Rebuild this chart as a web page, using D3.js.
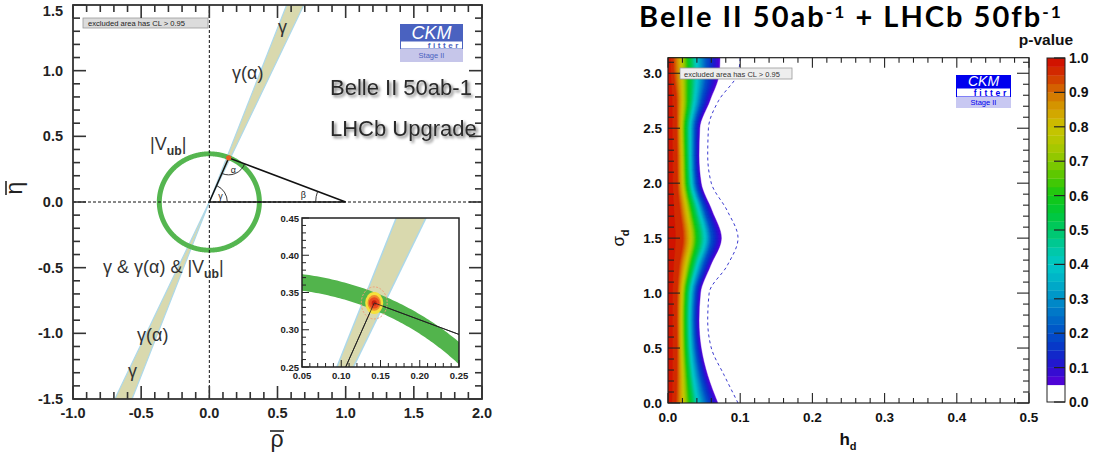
<!DOCTYPE html>
<html><head><meta charset="utf-8">
<script src="https://cdn.jsdelivr.net/npm/d3@7/dist/d3.min.js"></script>
<style>html,body{margin:0;padding:0;background:#fff;} svg{display:block;}</style>
</head><body>
<svg id="chart" width="1097" height="461"></svg>
<script>
// ================= DATA =================
// ---- Left panel: unitarity triangle fit ----
const rhoTicks = [-1.0,-0.5,0.0,0.5,1.0,1.5,2.0];
const etaTicks = [-1.5,-1.0,-0.5,0.0,0.5,1.0,1.5];
const gammaBandDeg = [65.2, 69.3];          // angular edges of the γ / γ(α) band
const vubRing = [0.356, 0.378];             // |Vub| ring radii
const apex = [0.142, 0.336];                // fitted apex (ρ̄, η̄)
const triangleRho = [0, 0.142, 1];
const triangleEta = [0, 0.336, 0];
const insetRhoTicks = [0.05,0.10,0.15,0.20,0.25];
const insetEtaTicks = [0.25,0.30,0.35,0.40,0.45];
const clRx = [0.0165,0.0115,0.0085,0.0068,0.0032];
const clRy = [0.0215,0.0148,0.0105,0.0075,0.0036];
const clFill = ['none','#f6e13c','#f08a2c','#ea4a20','#c8200e'];

// ---- Right panel: h_d / σ_d p-value scan ----
const hdTicks = [0.0,0.1,0.2,0.3,0.4,0.5];
const sigmaTicks = [0.0,0.5,1.0,1.5,2.0,2.5,3.0];
const pTicks = [0.0,0.1,0.2,0.3,0.4,0.5,0.6,0.7,0.8,0.9,1.0];
const sigmaGrid = [0,0.25,0.5,0.75,1.0,1.25,1.5,1.75,2.0,2.25,2.5,2.75,3.0,3.1416];
const edgeH = [0.069,0.055,0.046,0.043,0.045,0.059,0.074,0.061,0.046,0.043,0.044,0.058,0.071,0.072]; // p = 0.05 contour
const dashH = [0.097,0.078,0.060,0.055,0.057,0.082,0.097,0.082,0.060,0.055,0.056,0.070,0.097,0.100]; // dashed contour
const levelP = [0.05,0.2,0.4,0.6,0.8,0.95,1.0];
// contour position relative to the p=0.05 edge, per sigmaGrid point
const u05 = [1,1,1,1,1,1,1,1,1,1,1,1,1,1];
const u20 = [.79,.81,.83,.84,.84,.83,.81,.83,.84,.85,.84,.80,.75,.74];
const u40 = [.59,.63,.67,.69,.69,.68,.69,.70,.70,.71,.69,.63,.56,.54];
const u60 = [.43,.48,.52,.54,.54,.53,.53,.54,.55,.56,.53,.47,.39,.37];
const u80 = [.30,.36,.40,.42,.42,.41,.42,.42,.43,.44,.41,.34,.26,.24];
const u95 = [.16,.22,.27,.28,.28,.26,.28,.27,.28,.29,.27,.20,.11,.10];
const u100 = [0,0,0,0,0,0,0,0,0,0,0,0,0,0];
const paletteP = [0.05,0.1,0.15,0.2,0.25,0.3,0.35,0.4,0.45,0.5,0.55,0.6,0.65,0.7,0.75,0.8,0.85,0.9,0.95,1.0];
const paletteC = ['#5a00d8','#2a10d0','#0a30c8','#0050c8','#0070c8','#0090c8','#00b0c8','#00c8c8','#00c8a0','#00c864','#00c838','#14c814','#50c800','#88c800','#b0c800','#cac200','#d4a000','#d47000','#d23400','#d00800'];

// ================= DRAW =================
const svg = d3.select('#chart');
const defs = svg.append('defs');
const FONT = "'Liberation Sans', Arial, Helvetica, sans-serif";

function drawTicks(g, xs, ys, xMinor, xMajor, yMinor, yMajor, xLen, yLen, sides, sw, col){
  const [x0,x1] = xs.range(); const [y0,y1] = ys.range();
  const isMaj = (v, arr)=> arr.some(m=>Math.abs(m-v)<1e-6);
  xMinor.forEach(v=>{
    const L = isMaj(v,xMajor)?xLen[0]:xLen[1]; const px = xs(v);
    if(sides.includes('b')) g.append('line').attr('x1',px).attr('x2',px).attr('y1',y0).attr('y2',y0-L).attr('stroke',col).attr('stroke-width',sw);
    if(sides.includes('t')) g.append('line').attr('x1',px).attr('x2',px).attr('y1',y1).attr('y2',y1+L).attr('stroke',col).attr('stroke-width',sw);
  });
  yMinor.forEach(v=>{
    const L = isMaj(v,yMajor)?yLen[0]:yLen[1]; const py = ys(v);
    if(sides.includes('l')) g.append('line').attr('x1',x0).attr('x2',x0+L).attr('y1',py).attr('y2',py).attr('stroke',col).attr('stroke-width',sw);
    if(sides.includes('r')) g.append('line').attr('x1',x1).attr('x2',x1-L).attr('y1',py).attr('y2',py).attr('stroke',col).attr('stroke-width',sw);
  });
}
const steps = (a,b,s)=> d3.range(Math.round((b-a)/s)+1).map(i=>+(a+i*s).toFixed(6));

// ---------- LEFT PANEL ----------
const xL = d3.scaleLinear().domain([-1,2]).range([73,482]);
const yL = d3.scaleLinear().domain([-1.5,1.5]).range([399,5]);
defs.append('clipPath').attr('id','clipL').append('rect')
  .attr('x',xL(-1)).attr('y',yL(1.5)).attr('width',xL(2)-xL(-1)).attr('height',yL(-1.5)-yL(1.5));

const gL = svg.append('g');
const pL = gL.append('g').attr('clip-path','url(#clipL)');

function wedgePath(xs, ys, a1, a2, R){
  const r = d=>d*Math.PI/180;
  const line = d3.line().x(d=>xs(d[0])).y(d=>ys(d[1]));
  const w1 = [[0,0],[R*Math.cos(r(a1)),R*Math.sin(r(a1))],[R*Math.cos(r(a2)),R*Math.sin(r(a2))]];
  const w2 = [[0,0],[-R*Math.cos(r(a1)),-R*Math.sin(r(a1))],[-R*Math.cos(r(a2)),-R*Math.sin(r(a2))]];
  return line(w1)+'Z'+line(w2)+'Z';
}
function edgeLine(xs, ys, a, R){
  const t = a*Math.PI/180;
  return d3.line().x(d=>xs(d[0])).y(d=>ys(d[1]))([[-R*Math.cos(t),-R*Math.sin(t)],[R*Math.cos(t),R*Math.sin(t)]]);
}
function ringPath(xs, ys, r0, r1){
  const n = 720;
  const line = d3.line().x(d=>xs(d[0])).y(d=>ys(d[1]));
  const outer = d3.range(n+1).map(i=>{const t=2*Math.PI*i/n; return [r1*Math.cos(t), r1*Math.sin(t)];});
  const inner = d3.range(n+1).map(i=>{const t=-2*Math.PI*i/n; return [r0*Math.cos(t), r0*Math.sin(t)];});
  return line(outer)+'Z'+line(inner)+'Z';
}

// band
pL.append('path').attr('d',wedgePath(xL,yL,gammaBandDeg[0],gammaBandDeg[1],4)).attr('fill','#d9d9ae');
gammaBandDeg.forEach(a=> pL.append('path').attr('d',edgeLine(xL,yL,a,4)).attr('stroke','#acd8ea').attr('stroke-width',1.2).attr('fill','none'));
// ring
pL.append('path').attr('d',ringPath(xL,yL,vubRing[0],vubRing[1])).attr('fill','#55b650').attr('fill-rule','evenodd')
  .attr('stroke','#55b650').attr('stroke-width',2);
// dashed axes
pL.append('line').attr('x1',xL(0)).attr('x2',xL(0)).attr('y1',yL(1.5)).attr('y2',yL(-1.5)).attr('stroke','#111').attr('stroke-width',1).attr('stroke-dasharray','3,2');
pL.append('line').attr('x1',xL(-1)).attr('x2',xL(2)).attr('y1',yL(0)).attr('y2',yL(0)).attr('stroke','#111').attr('stroke-width',1).attr('stroke-dasharray','3,2');
// triangle
const triPts = triangleRho.map((r,i)=>[r,triangleEta[i]]);
pL.append('path').attr('d',d3.line().x(d=>xL(d[0])).y(d=>yL(d[1]))(triPts)+'Z').attr('fill','none').attr('stroke','#111').attr('stroke-width',1.5);
// apex blob
pL.append('ellipse').attr('cx',xL(apex[0])).attr('cy',yL(apex[1])).attr('rx',2.6).attr('ry',2.6).attr('fill','#ea5a22');
// angle arcs
function arcPath(v, a, b, r){
  const a1 = Math.atan2(a[1]-v[1], a[0]-v[0]);
  const a2 = Math.atan2(b[1]-v[1], b[0]-v[0]);
  let d = a2-a1; while(d<=-Math.PI) d+=2*Math.PI; while(d>Math.PI) d-=2*Math.PI;
  const sweep = d>0?1:0;
  return `M${v[0]+r*Math.cos(a1)},${v[1]+r*Math.sin(a1)} A${r},${r} 0 0 ${sweep} ${v[0]+r*Math.cos(a2)},${v[1]+r*Math.sin(a2)}`;
}
const P = triPts.map(d=>[xL(d[0]),yL(d[1])]);
[[P[0],P[2],P[1],18],[P[1],P[0],P[2],17],[P[2],P[1],P[0],30]].forEach(([v,a,b,r])=>{
  pL.append('path').attr('d',arcPath(v,a,b,r)).attr('fill','none').attr('stroke','#222').attr('stroke-width',0.9);
});
const angLab = (t,x,y)=> pL.append('text').attr('x',x).attr('y',y).attr('font-family',FONT).attr('font-size',9).attr('fill','#222').text(t);
angLab('α',P[1][0]+2,P[1][1]+15);
angLab('γ',P[0][0]+9,P[0][1]-3);
angLab('β',P[2][0]-45,P[2][1]-4);

// region labels
function lbl(x,y,parts,size){
  const t = gL.append('text').attr('x',x).attr('y',y).attr('font-family',FONT).attr('font-size',size||18).attr('fill','#333');
  parts.forEach(p=>{
    const s = t.append('tspan').text(p.t);
    if(p.sub){ s.attr('font-size',(size||18)*0.68).attr('dy',5).attr('font-weight','bold'); }
    if(p.back){ s.attr('dy',-5); }
  });
  return t;
}
lbl(278,33,[{t:'γ'}]);
lbl(232,79,[{t:'γ(α)'}]);
lbl(150,150,[{t:'|V'},{t:'ub',sub:true},{t:'|',back:true}]);
lbl(103,273,[{t:'γ & γ(α) & |V'},{t:'ub',sub:true},{t:'|',back:true}]);
lbl(137,341,[{t:'γ(α)'}]);
lbl(128,377,[{t:'γ'}]);

// Belle II / LHCb text with blurred shadow
const fl = defs.append('filter').attr('id','shadow').attr('x','-10%').attr('y','-30%').attr('width','130%').attr('height','170%');
fl.append('feGaussianBlur').attr('in','SourceAlpha').attr('stdDeviation',1.6).attr('result','b');
fl.append('feOffset').attr('in','b').attr('dx',1.5).attr('dy',1.5).attr('result','o');
fl.append('feComponentTransfer').attr('in','o').attr('result','o2').append('feFuncA').attr('type','linear').attr('slope',0.55);
const mg = fl.append('feMerge'); mg.append('feMergeNode').attr('in','o2'); mg.append('feMergeNode').attr('in','SourceGraphic');
gL.append('text').attr('x',330).attr('y',95).attr('font-family',FONT).attr('font-size',22).attr('fill','#2a2a2a').attr('filter','url(#shadow)').text('Belle II 50ab-1');
gL.append('text').attr('x',330).attr('y',136).attr('font-family',FONT).attr('font-size',22).attr('fill','#2a2a2a').attr('filter','url(#shadow)').text('LHCb Upgrade');

// excluded-area box
gL.append('rect').attr('x',83).attr('y',18).attr('width',125).attr('height',10).attr('fill','#dcdcdc').attr('stroke','#9a9a9a').attr('stroke-width',0.8);
gL.append('text').attr('x',88).attr('y',26).attr('font-family',FONT).attr('font-size',7.6).attr('fill','#222').text('excluded area has CL > 0.95');

// CKMfitter logo
function ckmLogo(g,x,y,w,h1,h2,h3,blue,lav,fs){
  g.append('rect').attr('x',x).attr('y',y).attr('width',w).attr('height',h1).attr('fill',blue);
  g.append('text').attr('x',x+w/2).attr('y',y+h1-2.5).attr('text-anchor','middle').attr('font-family',FONT).attr('font-style','italic').attr('font-size',fs[0]).attr('fill','#fff').text('CKM');
  g.append('rect').attr('x',x+0.5).attr('y',y+h1).attr('width',w-1).attr('height',h2).attr('fill','#fff').attr('stroke',blue).attr('stroke-width',1);
  g.append('text').attr('x',x+w-2).attr('y',y+h1+h2-1.2).attr('text-anchor','end').attr('font-family',FONT).attr('font-weight','bold').attr('font-size',fs[1]).attr('letter-spacing',fs[1]*0.32).attr('fill',blue).text('fitter');
  g.append('rect').attr('x',x).attr('y',y+h1+h2).attr('width',w).attr('height',h3).attr('fill',lav);
  g.append('text').attr('x',x+w/2).attr('y',y+h1+h2+h3*0.72).attr('text-anchor','middle').attr('font-family',FONT).attr('font-size',fs[2]).attr('fill',blue).text('Stage II');
}
ckmLogo(gL,400,24,63,17,8,13,'#4a62c0','#c6c6ea',[18,8,7.5]);

// inset
const xI = d3.scaleLinear().domain([0.05,0.25]).range([302,459]);
const yI = d3.scaleLinear().domain([0.25,0.45]).range([367,218]);
defs.append('clipPath').attr('id','clipI').append('rect').attr('x',302).attr('y',218).attr('width',157).attr('height',149);
gL.append('rect').attr('x',302).attr('y',218).attr('width',157).attr('height',149).attr('fill','#fff');
const pI = gL.append('g').attr('clip-path','url(#clipI)');
pI.append('path').attr('d',wedgePath(xI,yI,gammaBandDeg[0],gammaBandDeg[1],1)).attr('fill','#d9d9ae');
gammaBandDeg.forEach(a=> pI.append('path').attr('d',edgeLine(xI,yI,a,1)).attr('stroke','#acd8ea').attr('stroke-width',1.5).attr('fill','none'));
pI.append('path').attr('d',ringPath(xI,yI,vubRing[0],vubRing[1])).attr('fill','#52b44c').attr('fill-rule','evenodd');
pI.append('path').attr('d',d3.line().x(d=>xI(d[0])).y(d=>yI(d[1]))(triPts)).attr('fill','none').attr('stroke','#222').attr('stroke-width',1);
clRx.forEach((rx,i)=>{
  const e = pI.append('ellipse').attr('cx',xI(apex[0])).attr('cy',yI(apex[1]))
    .attr('rx',xI(apex[0]+rx)-xI(apex[0])).attr('ry',yI(apex[1])-yI(apex[1]+clRy[i]));
  if(clFill[i]==='none') e.attr('fill','none').attr('stroke','#f0a07c').attr('stroke-width',1).attr('stroke-dasharray','2,1.5');
  else e.attr('fill',clFill[i]);
});
pI.append('path').attr('d',d3.line().x(d=>xI(d[0])).y(d=>yI(d[1]))(triPts.slice(0,2))).attr('fill','none').attr('stroke','#222').attr('stroke-width',0.8);
pI.append('path').attr('d',d3.line().x(d=>xI(d[0])).y(d=>yI(d[1]))(triPts.slice(1))).attr('fill','none').attr('stroke','#222').attr('stroke-width',0.8);
gL.append('rect').attr('x',302).attr('y',218).attr('width',157).attr('height',149).attr('fill','none').attr('stroke','#222').attr('stroke-width',1.5);
drawTicks(gL,xI,yI,steps(0.05,0.25,0.01),insetRhoTicks,steps(0.25,0.45,0.01),insetEtaTicks,[7,4],[7,4],'lb',1,'#222');
insetRhoTicks.forEach(v=> gL.append('text').attr('x',xI(v)).attr('y',379).attr('text-anchor','middle').attr('font-family',FONT).attr('font-weight','bold').attr('font-size',9.5).attr('fill','#222').text(v.toFixed(2)));
insetEtaTicks.forEach(v=> gL.append('text').attr('x',299).attr('y',yI(v)+3.5).attr('text-anchor','end').attr('font-family',FONT).attr('font-weight','bold').attr('font-size',9.5).attr('fill','#222').text(v.toFixed(2)));

// frame + ticks
gL.append('rect').attr('x',xL(-1)).attr('y',yL(1.5)).attr('width',xL(2)-xL(-1)).attr('height',yL(-1.5)-yL(1.5)).attr('fill','none').attr('stroke','#333').attr('stroke-width',1.8);
drawTicks(gL,xL,yL,steps(-1,2,0.1),rhoTicks,steps(-1.5,1.5,0.1),etaTicks,[13,7],[13,7],'lbrt',1.6,'#333');
rhoTicks.forEach(v=> gL.append('text').attr('x',xL(v)).attr('y',418).attr('text-anchor','middle').attr('font-family',FONT).attr('font-weight','bold').attr('font-size',14.5).attr('fill','#222').text(v.toFixed(1)));
etaTicks.forEach(v=> gL.append('text').attr('x',63).attr('y',Math.max(yL(v)+5,16)).attr('text-anchor','end').attr('font-family',FONT).attr('font-weight','bold').attr('font-size',14.5).attr('fill','#222').text(v.toFixed(1)));
// axis titles
gL.append('text').attr('x',277).attr('y',447).attr('text-anchor','middle').attr('font-family',FONT).attr('font-size',23).attr('fill','#222').text('ρ');
gL.append('line').attr('x1',270).attr('x2',284).attr('y1',431).attr('y2',431).attr('stroke','#222').attr('stroke-width',1.6);
const gEta = gL.append('g').attr('transform','translate(22,188) rotate(-90)');
gEta.append('text').attr('x',0).attr('y',0).attr('text-anchor','middle').attr('font-family',FONT).attr('font-size',23).attr('fill','#222').text('η');
gEta.append('line').attr('x1',-7).attr('x2',7).attr('y1',-16).attr('y2',-16).attr('stroke','#222').attr('stroke-width',1.6);

// ---------- RIGHT PANEL ----------
const xR = d3.scaleLinear().domain([0,0.5]).range([668,1029]);
const yR = d3.scaleLinear().domain([0,Math.PI]).range([403,57.7]);
const gR = svg.append('g');
defs.append('clipPath').attr('id','clipR').append('rect').attr('x',668).attr('y',57.7).attr('width',361).attr('height',345.3);
const pR = gR.append('g').attr('clip-path','url(#clipR)');
const colorOf = d3.scaleLinear().domain(paletteP).range(paletteC).clamp(true);
const levelRows = [u05,u20,u40,u60,u80,u95,u100];
const area = d3.area().curve(d3.curveMonotoneY).y(d=>yR(d.s)).x0(xR(0)).x1(d=>xR(d.h));
const bandStep = 0.025;
const bandLows = d3.range(0,38).map(i=>0.05+i*bandStep);
bandLows.forEach(p=>{
  const pts = sigmaGrid.map((s,i)=>{
    const u = d3.scaleLinear().domain(levelP).range(levelRows.map(r=>r[i]))(p);
    return {s, h: u*edgeH[i]};
  });
  pR.append('path').attr('d',area(pts)).attr('fill',colorOf(p+bandStep/2)).attr('stroke',colorOf(p+bandStep/2)).attr('stroke-width',0.4);
});
pR.append('path').attr('d',d3.line().curve(d3.curveMonotoneY).y((d,i)=>yR(sigmaGrid[i])).x(d=>xR(d))(dashH))
  .attr('fill','none').attr('stroke','#3a3ad0').attr('stroke-width',1).attr('stroke-dasharray','3,3');

// excluded box + logo
gR.append('rect').attr('x',680).attr('y',68).attr('width',112).attr('height',11).attr('fill','#eeeeee').attr('stroke','#999').attr('stroke-width',0.8);
gR.append('text').attr('x',684).attr('y',76.5).attr('font-family',FONT).attr('font-size',7.5).attr('fill','#333').text('excluded area has CL > 0.95');
ckmLogo(gR,956,75,55,13,9,11,'#0000ee','#c8c8f2',[14,8.5,7.5]);

// frame & ticks
gR.append('rect').attr('x',668).attr('y',57.7).attr('width',361).attr('height',345.3).attr('fill','none').attr('stroke','#222').attr('stroke-width',1.2);
drawTicks(gR,xR,yR,steps(0,0.5,0.02),hdTicks,steps(0,3.1,0.1),sigmaTicks,[10,5],[12,6],'lbrt',1.1,'#222');
hdTicks.forEach(v=> gR.append('text').attr('x',xR(v)).attr('y',422).attr('text-anchor','middle').attr('font-family',FONT).attr('font-weight','bold').attr('font-size',13.5).attr('fill','#111').text(v.toFixed(1)));
sigmaTicks.forEach(v=> gR.append('text').attr('x',662).attr('y',yR(v)+5).attr('text-anchor','end').attr('font-family',FONT).attr('font-weight','bold').attr('font-size',13.5).attr('fill','#111').text(v.toFixed(1)));
// axis titles
const hT = gR.append('text').attr('x',848).attr('y',445).attr('text-anchor','middle').attr('font-family',FONT).attr('font-weight','bold').attr('font-size',17).attr('fill','#111');
hT.append('tspan').text('h'); hT.append('tspan').attr('font-size',11).attr('dy',5).text('d');
const sT = gR.append('text').attr('transform','translate(624,238) rotate(-90)').attr('text-anchor','middle').attr('font-family',FONT).attr('font-size',17).attr('fill','#111');
sT.append('tspan').text('σ'); sT.append('tspan').attr('font-size',11).attr('dy',5).attr('font-weight','bold').text('d');

// colorbar
const yC = d3.scaleLinear().domain([0,1]).range([402,58]);
gR.append('rect').attr('x',1047).attr('y',yC(0.05)).attr('width',18).attr('height',yC(0)-yC(0.05)).attr('fill','#fff');
bandLows.forEach(p=>{
  const hi = Math.min(1,p+bandStep);
  gR.append('rect').attr('x',1047).attr('y',yC(hi)).attr('width',18).attr('height',yC(p)-yC(hi)+0.3).attr('fill',colorOf(p+bandStep/2));
});
gR.append('rect').attr('x',1047).attr('y',58).attr('width',18).attr('height',344).attr('fill','none').attr('stroke','#222').attr('stroke-width',1);
pTicks.forEach(v=>{
  gR.append('line').attr('x1',1065).attr('x2',1054).attr('y1',yC(v)).attr('y2',yC(v)).attr('stroke','#222').attr('stroke-width',1.2);
  gR.append('text').attr('x',1069).attr('y',yC(v)+5).attr('font-family',FONT).attr('font-weight','bold').attr('font-size',14).attr('fill','#111').text(v.toFixed(1));
});
gR.append('text').attr('x',1046).attr('y',45).attr('text-anchor','middle').attr('font-family',FONT).attr('font-weight','bold').attr('font-size',15.5).attr('fill','#111').text('p-value');

// title
const title = svg.append('text').attr('x',639).attr('y',27).attr('font-family',"Lato, 'Open Sans', sans-serif").attr('font-weight','bold').attr('font-size',29).attr('fill','#000');
title.append('tspan').text('Belle II 50ab');
title.append('tspan').attr('font-size','0.6em').attr('dy','-0.5em').text('-1');
title.append('tspan').attr('dy','0.3em').text(' + LHCb 50fb');
title.append('tspan').attr('font-size','0.6em').attr('dy','-0.5em').text('-1');
const tw = title.node().getComputedTextLength();
const nChars = 'Belle II 50ab-1 + LHCb 50fb-1'.length;
title.attr('letter-spacing', (424-tw)/nChars);
</script>
</body></html>
